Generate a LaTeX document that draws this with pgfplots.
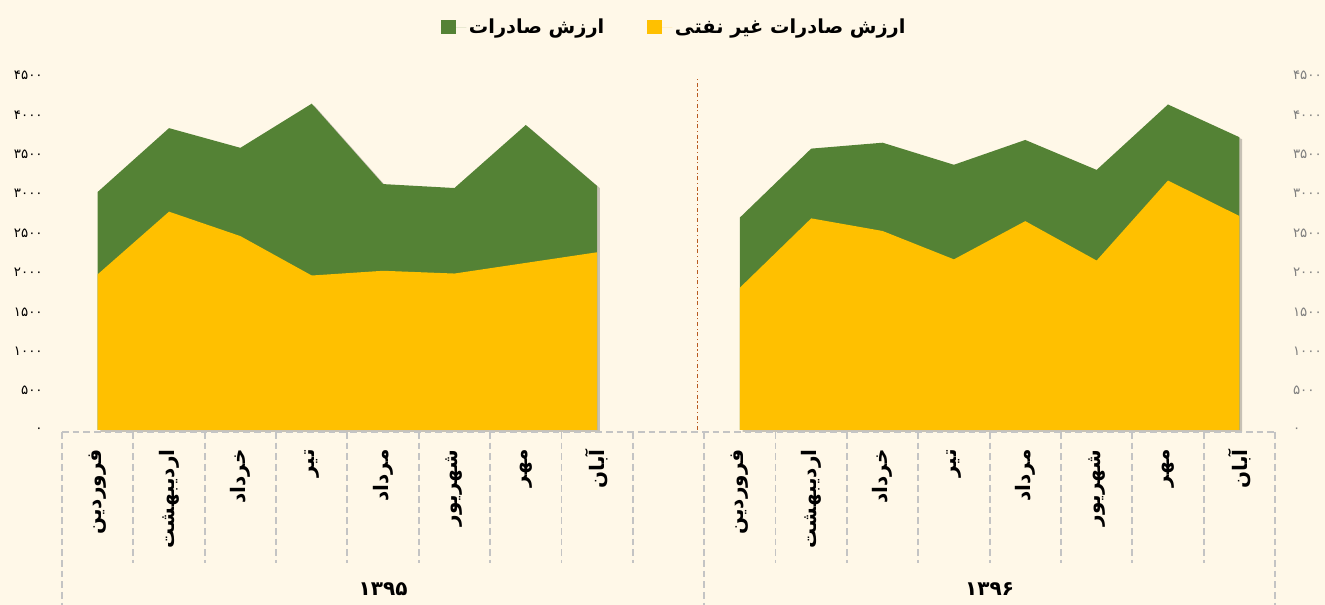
\documentclass[border=0pt]{standalone}
\usepackage{fontspec}
\usepackage{pgfplots}
\pgfplotsset{compat=1.18}
\usetikzlibrary{calc}
\TeXXeTstate=1
\setmainfont{DejaVu Sans}
\newfontfamily\arabicfont[Script=Arabic]{DejaVu Sans}
\definecolor{gold}{HTML}{FFC000}
\definecolor{grn}{HTML}{548235}
\definecolor{bgc}{HTML}{FFF8E8}
\definecolor{gridg}{HTML}{C4C4C4}
\definecolor{sepc}{HTML}{B85A20}
\definecolor{rgray}{HTML}{7F7F7F}
\newcommand{\fa}[1]{\beginR #1\endR}

\pgfplotstableread{
x g y
0 3020 1975
1 3830 2770
2 3580 2460
3 4140 1960
4 3120 2020
5 3070 1985
6 3870 2120
7 3095 2255
}\leftdata
\pgfplotstableread{
x g y
9  2695 1805
10 3570 2685
11 3645 2525
12 3365 2165
13 3680 2650
14 3300 2150
15 4130 3165
16 3715 2715
}\rightdata

\begin{document}
\begin{tikzpicture}
\fill[bgc] (0pt,0pt) rectangle (993.75pt,453.75pt);
\begin{axis}[
  at={(46.5pt,131.25pt)}, anchor=south west,
  scale only axis, width=909.75pt, height=266pt,
  xmin=-0.5, xmax=16.5, ymin=0, ymax=4500,
  axis line style={draw=none}, major tick length=0pt,
  clip=false,
  xtick={0,1,2,3,4,5,6,7,9,10,11,12,13,14,15,16},
  xticklabels={\fa{فروردین},\fa{اردیبهشت},\fa{خرداد},\fa{تیر},\fa{مرداد},\fa{شهریور},\fa{مهر},\fa{آبان},
               \fa{فروردین},\fa{اردیبهشت},\fa{خرداد},\fa{تیر},\fa{مرداد},\fa{شهریور},\fa{مهر},\fa{آبان}},
  xticklabel shift=11pt,
  xticklabel style={rotate=90, anchor=east, font=\arabicfont\bfseries\fontsize{15}{17}\selectfont},
  ytick={0,500,1000,1500,2000,2500,3000,3500,4000,4500},
  yticklabels={۰,۵۰۰,۱۰۰۰,۱۵۰۰,۲۰۰۰,۲۵۰۰,۳۰۰۰,۳۵۰۰,۴۰۰۰,۴۵۰۰},
  yticklabel shift=11pt,
  yticklabel style={anchor=east, font=\arabicfont\fontsize{10}{12}\selectfont},
  legend columns=2,
  legend style={at={(0.505,1.136)}, anchor=center, draw=none, fill=none,
    font=\arabicfont\bfseries\fontsize{14.5}{17}\selectfont,
    /tikz/every even column/.append style={column sep=30pt}},
  legend image code/.code={\fill[#1] (0pt,-5.5pt) rectangle (11pt,5.5pt); \path (0pt,0pt) -- (19pt,0pt);},
]
% shadows
\addplot[forget plot, fill=black, opacity=0.22, draw=none, shift={(2pt,-1.5pt)}] table[x=x,y=g] {\leftdata} \closedcycle;
\addplot[forget plot, fill=black, opacity=0.22, draw=none, shift={(2pt,-1.5pt)}] table[x=x,y=g] {\rightdata} \closedcycle;
% areas
\addplot[fill=grn, draw=none] table[x=x,y=g] {\leftdata} \closedcycle;
\addlegendentry{\fa{ارزش  صادرات}}
\addplot[fill=gold, draw=none] table[x=x,y=y] {\leftdata} \closedcycle;
\addlegendentry{\fa{ارزش صادرات غیر نفتی}}
\addplot[forget plot, fill=grn, draw=none] table[x=x,y=g] {\rightdata} \closedcycle;
\addplot[forget plot, fill=gold, draw=none] table[x=x,y=y] {\rightdata} \closedcycle;

% category table lines
\draw[gridg, line width=1.4pt, dash pattern=on 5pt off 3pt] ($(axis cs:-0.5,0)+(0pt,-1.5pt)$) -- ($(axis cs:16.5,0)+(0pt,-1.5pt)$);
\pgfplotsinvokeforeach{0.5,1.5,2.5,3.5,4.5,5.5,6.5,7.5,9.5,10.5,11.5,12.5,13.5,14.5,15.5}{
  \draw[gridg, line width=1.4pt, dash pattern=on 5pt off 3pt] ($(axis cs:#1,0)+(0pt,-1.5pt)$) -- ($(axis cs:#1,0)+(0pt,-99.5pt)$);
}
\pgfplotsinvokeforeach{-0.5,8.5,16.5}{
  \draw[gridg, line width=1.4pt, dash pattern=on 5pt off 3pt] ($(axis cs:#1,0)+(0pt,-1.5pt)$) -- ($(axis cs:#1,0)+(0pt,-135pt)$);
}
% year separator
\draw[sepc, line width=0.8pt, dash pattern=on 3pt off 2pt on 0.8pt off 2pt] (axis cs:8.4,0) -- (axis cs:8.4,4450);
% group labels
\node[font=\arabicfont\bfseries\fontsize{15}{17}\selectfont] at ($(axis cs:4,0)+(0pt,-119.5pt)$) {۱۳۹۵};
\node[font=\arabicfont\bfseries\fontsize{15}{17}\selectfont] at ($(axis cs:12.5,0)+(0pt,-119.5pt)$) {۱۳۹۶};
\end{axis}
\begin{axis}[
  at={(46.5pt,131.25pt)}, anchor=south west,
  scale only axis, width=909.75pt, height=266pt,
  xmin=-0.5, xmax=16.5, ymin=0, ymax=4500,
  axis line style={draw=none}, major tick length=0pt,
  xtick=\empty,
  ytick={0,500,1000,1500,2000,2500,3000,3500,4000,4500},
  yticklabels={۰,۵۰۰,۱۰۰۰,۱۵۰۰,۲۰۰۰,۲۵۰۰,۳۰۰۰,۳۵۰۰,۴۰۰۰,۴۵۰۰},
  yticklabel pos=right,
  yticklabel shift=10pt,
  yticklabel style={anchor=west, text=rgray, font=\arabicfont\fontsize{10}{12}\selectfont},
]
\end{axis}
\pgfresetboundingbox
\path[use as bounding box] (0pt,0pt) rectangle (993.75pt,453.75pt);
\end{tikzpicture}
\end{document}
